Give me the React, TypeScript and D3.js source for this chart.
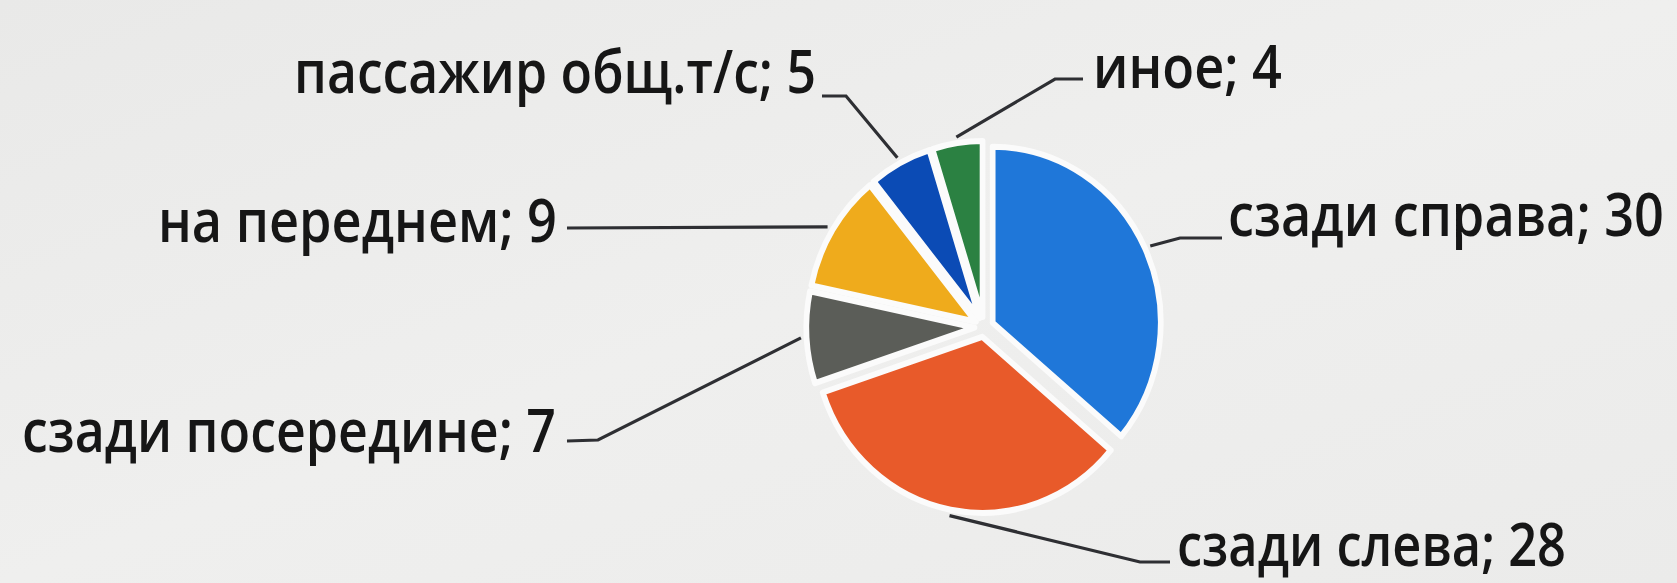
import React from "react";
import * as d3 from "d3";

const categories = ["сзади справа", "сзади слева", "сзади посередине", "на переднем", "пассажир общ.т/с", "иное"];
const values = [30, 28, 7, 9, 5, 4];
const colors = ["#1f77d9", "#e85a2a", "#5b5d58", "#efab1c", "#0b4bb5", "#2b8142"];

// layout of labels (text baseline, left/right bounds) and leader elbows
const labelLayout = [
  { x0: 1228, x1: 1664, y: 236, elbows: [[1180, 238], [1222, 238]] },
  { x0: 1177, x1: 1566, y: 566, elbows: [[1140, 562], [1170, 562]] },
  { x0: 22, x1: 556, y: 452, elbows: [[598, 440], [567, 441]] },
  { x0: 158, x1: 557, y: 242, elbows: [[567, 228]] },
  { x0: 294, x1: 816, y: 93, elbows: [[846, 96], [822, 96]] },
  { x0: 1093, x1: 1282, y: 88, elbows: [[1055, 79], [1083, 79]] },
];

const W = 1677, H = 583;
const cx = 984, cy = 327, R = 176, SX = 0.955, EXPLODE = 10, LEADER_R = 192;

export default function App() {
  const data = categories.map((c, i) => ({ c, v: values[i], i }));
  const pie = d3.pie<any>().sort(null).value((d: any) => d.v).startAngle(0).endAngle(2 * Math.PI);
  const arcs = pie(data);
  const arc = d3.arc<any>().innerRadius(0).outerRadius(R);
  const line = d3.line();

  return (
    <svg width={W} height={H} style={{ position: "absolute", left: 0, top: 0, background: "#ececeb" }}>
      <defs>
        <linearGradient id="bg" x1="0" y1="0" x2="1" y2="1">
          <stop offset="0" stopColor="#e9e9e8" />
          <stop offset="0.5" stopColor="#efefee" />
          <stop offset="1" stopColor="#ebebea" />
        </linearGradient>
      </defs>
      <rect width={W} height={H} fill="url(#bg)" />
      <g transform={`translate(${cx},${cy}) scale(${SX},1)`}>
        {arcs.map((a, k) => {
          const mid = (a.startAngle + a.endAngle) / 2;
          const dx = Math.sin(mid) * EXPLODE, dy = -Math.cos(mid) * EXPLODE;
          return (
            <path key={k} d={arc(a) as string} transform={`translate(${dx},${dy})`}
              fill={colors[a.data.i]} stroke="#fbfbfb" strokeWidth={6} strokeLinejoin="round" />
          );
        })}
      </g>
      {arcs.map((a, k) => {
        const mid = (a.startAngle + a.endAngle) / 2;
        const sx = cx + Math.sin(mid) * LEADER_R * SX;
        const sy = cy - Math.cos(mid) * LEADER_R;
        const L = labelLayout[a.data.i];
        const pts: [number, number][] = [[sx, sy], ...(L.elbows as [number, number][])];
        return <path key={"l" + k} d={line(pts) as string} fill="none" stroke="#2e2f33" strokeWidth={3.2} />;
      })}
      {arcs.map((a, k) => {
        const L = labelLayout[a.data.i];
        return (
          <text key={"t" + k} x={0} y={0} transform={`translate(${L.x0},${L.y}) scale(1,1.36)`}
            textLength={L.x1 - L.x0} lengthAdjust="spacingAndGlyphs"
            fontFamily="'Open Sans', 'Noto Sans', sans-serif" fontSize={44} fontWeight={600} fill="#161616">
            {`${a.data.c}; ${a.data.v}`}
          </text>
        );
      })}
    </svg>
  );
}
